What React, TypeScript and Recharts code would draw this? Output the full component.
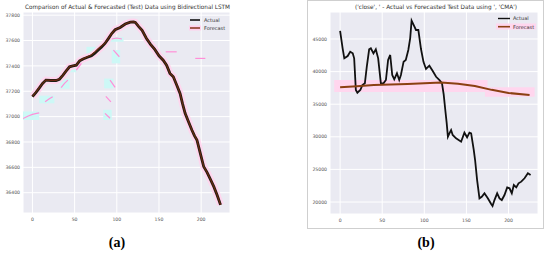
import React from 'react';
import { LineChart, Line, XAxis, YAxis, CartesianGrid, ReferenceArea } from 'recharts';

// ---------- shared ticks ----------
const xTicks = [0, 50, 100, 150, 200];
const yTicksA = [36400, 36600, 36800, 37000, 37200, 37400, 37600, 37800];
const yTicksB = [20000, 25000, 30000, 35000, 40000, 45000];

// ---------- panel (a): Bidirectional LSTM ----------
const actualA: [number, number][] = [
  [0, 37157], [4, 37190], [8, 37225], [12, 37262], [16, 37288], [22, 37285], [28, 37285], [32, 37295],
  [36, 37325], [40, 37360], [44, 37393], [48, 37400], [52, 37406], [56, 37440], [60, 37455], [66, 37470],
  [70, 37480], [74, 37500], [78, 37525], [82, 37550], [86, 37577], [90, 37615], [94, 37655], [98, 37685],
  [104, 37703], [110, 37730], [116, 37745], [120, 37746], [122, 37743], [126, 37710], [130, 37680],
  [135, 37618], [140, 37570], [145, 37530], [150, 37480], [155, 37445], [159, 37406], [163, 37341],
  [167, 37314], [171, 37250], [175, 37183], [178, 37100], [181, 37026], [185, 36960], [189, 36894],
  [192, 36850], [195, 36816], [199, 36710], [203, 36606], [207, 36560], [211, 36505], [215, 36448],
  [219, 36380], [223, 36304],
];
const forecastA: [number, number][] = [
  [0, 37160], [4, 37192], [8, 37226], [12, 37263], [16, 37289], [22, 37286], [28, 37286], [32, 37296],
  [36, 37326], [40, 37361], [44, 37394], [48, 37401], [52, 37407], [56, 37441], [60, 37456], [66, 37474],
  [70, 37488], [74, 37510], [78, 37535], [82, 37558], [86, 37580], [90, 37616], [94, 37656], [98, 37686],
  [104, 37704], [110, 37731], [116, 37746], [120, 37747], [122, 37744], [126, 37711], [130, 37681],
  [135, 37619], [140, 37571], [145, 37531], [150, 37481], [155, 37446], [159, 37407], [163, 37342],
  [167, 37315], [171, 37251], [175, 37184], [178, 37101], [181, 37027], [185, 36961], [189, 36895],
  [192, 36851], [195, 36817], [199, 36711], [203, 36607], [207, 36561], [211, 36506], [215, 36449],
  [219, 36381], [223, 36305],
];
const pinkSegmentsA: [number, number][][] = [
  [[-11, 36985], [-5, 37005], [0, 37018], [5, 37026], [8, 37030]],
  [[15, 37117], [20, 37140], [24, 37157]],
  [[34, 37228], [38, 37262], [42, 37288]],
  [[52, 37367], [58, 37420]],
  [[86, 37026], [92, 36987]],
  [[87, 37160], [93, 37117]],
  [[92, 37288], [98, 37230]],
  [[96, 37525], [103, 37472]],
  [[94, 37612], [100, 37620], [106, 37612]],
  [[158, 37511], [171, 37511]],
  [[193, 37459], [205, 37459]],
];
const cyanBoxesA: [number, number, number, number][] = [
  [-11.5, 8, 36973, 37040],
  [8, 26, 37105, 37165],
  [33, 44, 37220, 37295],
  [42, 52, 37350, 37410],
  [64, 76, 37485, 37550],
  [84, 94, 36973, 37055],
  [85, 96, 37223, 37300],
  [94, 104, 37420, 37525],
  [92, 108, 37590, 37625],
];

// ---------- panel (b): CMA ----------
const actualB: [number, number][] = [
  [0, 46227], [3, 43570], [5, 42040], [9, 42390], [12, 43050], [15, 42800], [16.7, 42040], [18.7, 37180],
  [20.5, 36760], [24, 37180], [26.5, 37940], [29.4, 38200], [31.7, 40750], [34.5, 43420], [36.5, 43570],
  [39.6, 42800], [42.4, 43420], [45.2, 42040], [48.4, 38200], [51.5, 38200], [54.4, 38710], [57, 41780],
  [59.5, 42550], [61.9, 39480], [64.3, 38820], [67.5, 39740], [70.2, 38710], [72.2, 39480], [75.4, 41520],
  [78, 41780], [81, 43310], [83.2, 45100], [84.9, 47800], [87.3, 47150], [90.1, 46380], [92.9, 46380],
  [96, 43500], [99, 41500], [102, 40400], [106, 40900], [110, 40100], [114, 39200], [118, 38700],
  [121, 38200], [123, 36500], [125, 34000], [126.5, 32200], [128, 30020], [129.8, 30530], [131.8, 31040],
  [133.7, 30280], [137.7, 29770], [143.7, 29250], [147.6, 30630], [150.8, 29920], [153.6, 30630],
  [155.6, 30530], [158.7, 28000], [160.3, 26440], [162.7, 23370], [165.5, 20560], [168.2, 20810],
  [171.4, 21330], [175.4, 20560], [179.4, 19690], [181, 19390], [183.3, 20300], [186.5, 21330],
  [189.3, 20560], [192, 20300], [195.2, 21070], [198.4, 22250], [201.2, 22100], [203.9, 21330],
  [206.3, 22600], [209.2, 22250], [211.9, 22870], [215.1, 23120], [219, 23640], [223, 24400], [226.2, 24140],
];
const forecastB: [number, number][] = [
  [0, 37590], [20, 37760], [40, 37940], [60, 38020], [80, 38100], [100, 38200], [120, 38320],
  [140, 38150], [160, 37790], [180, 37200], [200, 36720], [225, 36410],
];
const pinkBoxesB: [number, number, number, number][] = [
  [-7, 175, 36870, 38710],
  [172, 231, 36150, 37590],
];

const toPts = (arr: [number, number][]) => arr.map(([x, v]) => ({ x, v }));
const boxes = (arr: [number, number, number, number][]) =>
  arr.map(([x1, x2, y1, y2]) => ({ x1, x2, y1, y2 }));

const tickStyle = { fontSize: 4.6, fill: '#555', fontFamily: 'DejaVu Sans' };
const BG = '#eaeaf2';

function PanelA() {
  return (
    <LineChart width={240} height={235} margin={{ top: 12, right: 10, left: 0, bottom: 0 }}>
      <CartesianGrid fill={BG} stroke="#ffffff" strokeWidth={1} />
      <XAxis type="number" dataKey="x" domain={[-11.2, 234.2]} ticks={xTicks} height={22}
        tickLine={false} axisLine={false} tickSize={0} tickMargin={5} tick={tickStyle} allowDataOverflow />
      <YAxis type="number" dataKey="v" domain={[36240, 37825]} ticks={yTicksA} width={23}
        tickLine={false} axisLine={false} tickSize={0} tickMargin={3} tick={tickStyle} allowDataOverflow />
      {boxes(cyanBoxesA).map((b, i) => (
        <ReferenceArea key={'c' + i} x1={b.x1} x2={b.x2} y1={b.y1} y2={b.y2}
          fill="#cdf8f6" fillOpacity={1} stroke="none" ifOverflow="hidden" />
      ))}
      <Line data={toPts(actualA)} dataKey="v" stroke="#ffd6ee" strokeWidth={7} dot={false}
        isAnimationActive={false} strokeLinecap="butt" />
      {pinkSegmentsA.map((s, i) => (
        <Line key={'p' + i} data={toPts(s)} dataKey="v" stroke="#ff8fd8" strokeWidth={1.2}
          dot={false} isAnimationActive={false} />
      ))}
      <Line data={toPts(actualA)} dataKey="v" stroke="#1e1e12" strokeWidth={2.8} dot={false}
        isAnimationActive={false} />
      <Line data={toPts(forecastA)} dataKey="v" stroke="#6e2810" strokeWidth={1.1} dot={false}
        isAnimationActive={false} />
    </LineChart>
  );
}

function PanelB() {
  return (
    <LineChart width={268} height={236} margin={{ top: 12, right: 5, left: 31, bottom: 0 }}>
      <CartesianGrid fill={BG} stroke="#ffffff" strokeWidth={1} />
      <XAxis type="number" dataKey="x" domain={[-12, 235]} ticks={xTicks} height={22}
        tickLine={false} axisLine={false} tickSize={0} tickMargin={5} tick={tickStyle} allowDataOverflow />
      <YAxis type="number" dataKey="v" domain={[18160, 49140]} ticks={yTicksB} width={24}
        tickLine={false} axisLine={false} tickSize={0} tickMargin={3} tick={tickStyle} allowDataOverflow />
      {boxes(pinkBoxesB).map((b, i) => (
        <ReferenceArea key={'b' + i} x1={b.x1} x2={b.x2} y1={b.y1} y2={b.y2}
          fill="#ffd6ee" fillOpacity={1} stroke="none" ifOverflow="hidden" />
      ))}
      <Line data={toPts(actualB)} dataKey="v" stroke="#111111" strokeWidth={1.8} dot={false}
        isAnimationActive={false} />
      <Line data={toPts(forecastB)} dataKey="v" stroke="#8b4012" strokeWidth={2} dot={false}
        isAnimationActive={false} />
    </LineChart>
  );
}

const titleA = 'Comparison of Actual & Forecasted (Test) Data using Bidirectional LSTM';
const titleB = "('close', ' - Actual vs Forecasted Test Data using ', 'CMA')";
const legendLabels = ['Actual', 'Forecast'];

export default function App() {
  return (
    <div style={{ position: 'absolute', left: 0, top: 0, width: 550, height: 254, background: '#fff', overflow: 'hidden' }}>
      {/* border of panel (b) */}
      <div style={{ position: 'absolute', left: 307, top: 0, width: 235, height: 227, border: '1px solid #cfcfcf' }} />
      <div style={{ position: 'absolute', left: 0, top: 0 }}>
        <PanelA />
      </div>
      <div style={{ position: 'absolute', left: 275, top: 0 }}>
        <PanelB />
      </div>
      <svg width={550} height={254} style={{ position: 'absolute', left: 0, top: 0 }}>
        <text x={25} y={9} fontSize={6} fill="#333" fontFamily="DejaVu Sans" textLength={205}
          lengthAdjust="spacingAndGlyphs">{titleA}</text>
        <text x={355} y={9} fontSize={6} fill="#333" fontFamily="DejaVu Sans" textLength={162}
          lengthAdjust="spacingAndGlyphs">{titleB}</text>

        {/* legend (a) */}
        <line x1={190} y1={20} x2={200} y2={20} stroke="#111" strokeWidth={1.6} />
        <rect x={189} y={25.5} width={12} height={5} fill="#ffd0ec" />
        <line x1={190} y1={28} x2={200} y2={28} stroke="#7a2a0c" strokeWidth={1.4} />
        <text x={204} y={21.8} fontSize={5} fill="#333" fontFamily="DejaVu Sans">{legendLabels[0]}</text>
        <text x={204} y={29.8} fontSize={5} fill="#333" fontFamily="DejaVu Sans">{legendLabels[1]}</text>

        {/* legend (b) */}
        <line x1={498} y1={18.5} x2={510} y2={18.5} stroke="#111" strokeWidth={1.4} />
        <rect x={496} y={23.5} width={40} height={6} fill="#ffd6ee" />
        <line x1={498} y1={26.7} x2={510} y2={26.7} stroke="#8b4012" strokeWidth={1.6} />
        <text x={513} y={20.3} fontSize={5} fill="#333" fontFamily="DejaVu Sans">{legendLabels[0]}</text>
        <text x={513} y={28.5} fontSize={5} fill="#333" fontFamily="DejaVu Sans">{legendLabels[1]}</text>

        <text x={117} y={247} fontSize={14} fontWeight="bold" fill="#000" textAnchor="middle"
          fontFamily="Liberation Serif">(a)</text>
        <text x={426} y={247} fontSize={14} fontWeight="bold" fill="#000" textAnchor="middle"
          fontFamily="Liberation Serif">(b)</text>
      </svg>
    </div>
  );
}
